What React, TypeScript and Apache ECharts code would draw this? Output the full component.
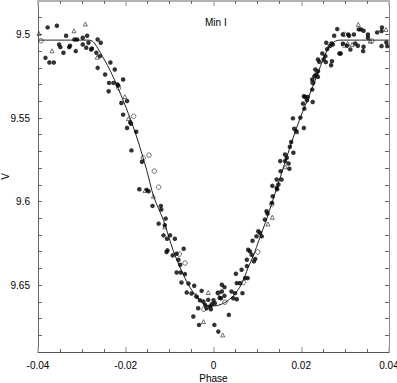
import React, { useEffect, useRef } from "react";
import * as echarts from "echarts";

// Tick labels / tick positions
const xTickLabels = ["-0.04", "-0.02", "0", "0.02", "0.04"];
const yLabelValues = [9.5, 9.55, 9.6, 9.65];
const yTickValues = [9.49, 9.5, 9.51, 9.52, 9.53, 9.54, 9.55, 9.56, 9.57, 9.58, 9.59, 9.6, 9.61, 9.62, 9.63, 9.64, 9.65, 9.66, 9.67, 9.68];

// Filled dots: [phase, V]
const filledDots: number[][] = [
  [-0.0378, 9.4958], [-0.0357, 9.4948], [-0.0383, 9.514], [-0.0374, 9.5168], [-0.0364, 9.5168],
  [-0.0352, 9.506], [-0.0349, 9.5076], [-0.0342, 9.511], [-0.0336, 9.5008], [-0.0329, 9.5076],
  [-0.0327, 9.5068], [-0.0317, 9.503], [-0.0311, 9.503], [-0.0314, 9.51], [-0.0298, 9.502],
  [-0.0298, 9.506], [-0.0288, 9.5008], [-0.029, 9.508], [-0.0285, 9.505], [-0.0279, 9.509],
  [-0.0277, 9.5084], [-0.0264, 9.503], [-0.0257, 9.505], [-0.0267, 9.511], [-0.0259, 9.513],
  [-0.0264, 9.52], [-0.0247, 9.524], [-0.0235, 9.5168], [-0.0225, 9.521], [-0.0238, 9.529],
  [-0.0239, 9.534], [-0.0228, 9.529], [-0.0219, 9.53], [-0.0217, 9.5306], [-0.0206, 9.527],
  [-0.021, 9.541], [-0.0206, 9.548], [-0.0197, 9.5398], [-0.0197, 9.556], [-0.019, 9.5526],
  [-0.0188, 9.5534], [-0.0176, 9.5582], [-0.0187, 9.5694], [-0.0163, 9.5762], [-0.0169, 9.5926],
  [-0.0152, 9.593], [-0.0148, 9.5938],
  [-0.0139, 9.6026], [-0.012, 9.6026], [-0.0119, 9.6048], [-0.0125, 9.6132], [-0.0111, 9.6142],
  [-0.0109, 9.6102], [-0.0114, 9.6202], [-0.0106, 9.6222], [-0.0099, 9.6202], [-0.0105, 9.6292],
  [-0.0107, 9.6302], [-0.0088, 9.6222], [-0.0093, 9.6322], [-0.0068, 9.6282],
  [-0.0084, 9.6312], [-0.008, 9.6348], [-0.0076, 9.6378], [-0.0084, 9.6424], [-0.0075, 9.6424],
  [-0.0065, 9.6434], [-0.0073, 9.6484], [-0.0057, 9.649], [-0.0061, 9.6544], [-0.005, 9.655],
  [-0.0044, 9.6504], [-0.0038, 9.657], [-0.0027, 9.6534], [-0.0031, 9.659], [-0.0023, 9.6598],
  [-0.0012, 9.6588], [-0.0019, 9.6618], [-0.0008, 9.6628], [-0.0004, 9.6614], [0.0, 9.659],
  [0.0003, 9.6608], [-0.0035, 9.6638], [-0.0016, 9.6638], [-0.0006, 9.6644], [-0.0046, 9.6688],
  [-0.0033, 9.6738], [0.0002, 9.6738], [0.0011, 9.6778], [0.0035, 9.6678], [0.0019, 9.6498],
  [0.0025, 9.6512], [0.0019, 9.6538], [0.0017, 9.6578], [0.0025, 9.6564], [0.0041, 9.6538],
  [0.0049, 9.6548], [0.0045, 9.6578], [0.0053, 9.6584], [0.0051, 9.6432], [0.0064, 9.6408],
  [0.0072, 9.6458], [0.0053, 9.6488], [0.006, 9.6488], [0.0066, 9.6548], [0.0083, 9.6298],
  [0.0087, 9.6318], [0.0092, 9.6358], [0.001, 9.6546], [0.0014, 9.6576], [0.0076, 9.6386],
  [0.0078, 9.6458], [0.0076, 9.6348], [0.0095, 9.6344],
  [0.0177, 9.5644], [0.0174, 9.5672], [0.0182, 9.5708], [0.0163, 9.5718], [0.0167, 9.5738],
  [0.0152, 9.5758], [0.0163, 9.5758], [0.0171, 9.5772], [0.0173, 9.5804], [0.0153, 9.5818],
  [0.0144, 9.5868], [0.0155, 9.5868], [0.0148, 9.5898], [0.0144, 9.5918], [0.0135, 9.5968],
  [0.0133, 9.6008], [0.0121, 9.6058], [0.0123, 9.6072], [0.0117, 9.6108], [0.0102, 9.6178],
  [0.0106, 9.6188], [0.011, 9.6208], [0.0098, 9.6208], [0.0089, 9.6234], [0.0079, 9.6288],
  [0.0134, 9.5906], [0.0145, 9.5926],
  [0.0282, 9.4968], [0.0275, 9.5008], [0.0295, 9.5], [0.0307, 9.5], [0.0309, 9.5008],
  [0.032, 9.5], [0.0331, 9.497], [0.0336, 9.497], [0.0342, 9.4978], [0.0352, 9.5],
  [0.0352, 9.502], [0.0373, 9.4988], [0.0384, 9.4958], [0.0383, 9.498], [0.0394, 9.5048],
  [0.0396, 9.507], [0.0383, 9.507], [0.0295, 9.5056], [0.0304, 9.5068], [0.0312, 9.509],
  [0.0323, 9.5054], [0.0329, 9.5068], [0.0341, 9.51], [0.0342, 9.5074], [0.0287, 9.5114],
  [0.029, 9.5114], [0.0272, 9.506], [0.0265, 9.507], [0.0257, 9.505], [0.0269, 9.5054],
  [0.0259, 9.5088], [0.0248, 9.5114], [0.0255, 9.513], [0.0251, 9.515], [0.0238, 9.515],
  [0.0241, 9.5164], [0.0256, 9.5166], [0.027, 9.516], [0.0268, 9.5184], [0.0232, 9.521],
  [0.0238, 9.522], [0.023, 9.525], [0.0225, 9.527], [0.0234, 9.524], [0.0238, 9.5254],
  [0.0227, 9.529], [0.0225, 9.533], [0.0206, 9.537], [0.0209, 9.5374], [0.0215, 9.5374],
  [0.0213, 9.5394], [0.0226, 9.5404], [0.0204, 9.5414], [0.0207, 9.5444], [0.0181, 9.5502],
  [0.0198, 9.5498], [0.0184, 9.5564], [0.0189, 9.558], [0.0206, 9.556],
];

// Open circles
const openCircles: number[][] = [
  [-0.0393, 9.5038], [-0.0216, 9.532], [-0.0182, 9.549], [-0.016, 9.5738], [-0.0147, 9.5722],
  [-0.0135, 9.5818], [-0.0125, 9.5914], [0.0011, 9.6548], [0.0068, 9.6484], [0.0026, 9.6602],
  [-0.0065, 9.6368], [-0.0078, 9.6314], [-0.0022, 9.6644], [0.0101, 9.6302], [0.0133, 9.6016],
  [0.0298, 9.5], [0.0361, 9.504], [0.0297, 9.5064], [0.0226, 9.5288],
];

// Open triangles
const openTriangles: number[][] = [
  [-0.0398, 9.4994], [-0.0368, 9.5098], [-0.0318, 9.4978], [-0.0292, 9.4938], [-0.0265, 9.5136],
  [-0.0202, 9.5372], [-0.0194, 9.5504], [-0.0156, 9.5934], [-0.0137, 9.5968], [-0.0111, 9.6152],
  [-0.0012, 9.6544], [-0.0023, 9.6718], [0.0021, 9.6798], [-0.004, 9.656], [0.0134, 9.6094],
  [0.0124, 9.6134], [0.0164, 9.5792], [0.033, 9.494], [0.0357, 9.504], [0.0393, 9.497],
  [0.0306, 9.5054], [0.0316, 9.506], [0.019, 9.5582],
];

// Model light curve
const modelCurve: number[][] = [
  [-0.04, 9.5034], [-0.0286, 9.5034], [-0.0274, 9.5044], [-0.0259, 9.5104], [-0.0236, 9.5214],
  [-0.0217, 9.5324], [-0.0194, 9.5474], [-0.0175, 9.5614], [-0.0152, 9.5814], [-0.0136, 9.5973],
  [-0.0114, 9.6112], [-0.0092, 9.6292], [-0.0073, 9.6412], [-0.0054, 9.6512], [-0.0031, 9.6592],
  [-0.0012, 9.6624], [0.0003, 9.6624], [0.0026, 9.6604], [0.0045, 9.6564], [0.0064, 9.6494],
  [0.0079, 9.6394], [0.0092, 9.6316], [0.0103, 9.6235], [0.0122, 9.6098], [0.0145, 9.5912],
  [0.019, 9.5554], [0.0229, 9.5294], [0.0259, 9.5094], [0.0275, 9.5044], [0.029, 9.5034],
  [0.04, 9.5034],
];

const FONT = "Liberation Sans, Arial, Helvetica, sans-serif";

export default function App() {
  const ref = useRef<HTMLDivElement>(null);
  useEffect(() => {
    if (!ref.current) return;
    const chart = echarts.init(ref.current, null, { renderer: "svg" });
    const fmtY = (v: number) => String(parseFloat(Number(v).toFixed(2)));
    const xAxisBase = {
      type: "value",
      min: -0.04,
      max: 0.04,
      interval: 0.02,
      splitLine: { show: false },
      minorSplitLine: { show: false },
      minorTick: { show: true, splitNumber: 4, length: 3, lineStyle: { color: "#666", width: 1 } },
      axisTick: { show: true, inside: true, length: 5, lineStyle: { color: "#b0b0b0", width: 1.5 } },
    };
    const yAxisBase = {
      type: "value",
      min: 9.48,
      max: 9.69,
      inverse: true,
      splitLine: { show: false },
      axisTick: {
        show: true,
        inside: true,
        length: 4,
        customValues: yTickValues,
        lineStyle: { color: "#666", width: 1 },
      },
    };
    chart.setOption({
      animation: false,
      textStyle: { fontFamily: FONT },
      title: {
        text: "Min I",
        left: 200,
        top: 12,
        textStyle: { fontSize: 10, fontWeight: "normal", color: "#000", fontFamily: FONT },
      },
      grid: { left: 38, right: 8, top: 1, bottom: 31, containLabel: false, outerBoundsMode: "none" },
      xAxis: [
        {
          ...xAxisBase,
          position: "bottom",
          name: "Phase",
          nameLocation: "middle",
          nameGap: 21,
          nameMoveOverlap: false,
          nameTextStyle: { fontSize: 10, color: "#000", fontFamily: FONT },
          axisLine: { show: true, onZero: false, lineStyle: { color: "#555", width: 1 } },
          axisLabel: {
            show: true,
            fontSize: 10,
            color: "#000",
            margin: 8,
            fontFamily: FONT,
            formatter: (v: number) => {
              const i = Math.round((v + 0.04) / 0.02);
              return xTickLabels[i] ?? "";
            },
          },
        },
        {
          ...xAxisBase,
          position: "top",
          axisLine: { show: true, onZero: false, lineStyle: { color: "#999", width: 1.5 } },
          axisLabel: { show: false },
        },
      ],
      yAxis: [
        {
          ...yAxisBase,
          position: "left",
          name: "V",
          nameLocation: "middle",
          nameGap: 28,
          nameMoveOverlap: false,
          nameTextStyle: { fontSize: 10, color: "#000", fontFamily: FONT },
          axisLine: { show: true, onZero: false, lineStyle: { color: "#666", width: 1 } },
          axisLabel: {
            show: true,
            fontSize: 10,
            color: "#000",
            margin: 8,
            fontFamily: FONT,
            customValues: yLabelValues,
            formatter: fmtY,
          },
        },
        {
          ...yAxisBase,
          position: "right",
          axisLine: { show: true, onZero: false, lineStyle: { color: "#888", width: 1 } },
          axisLabel: { show: false },
        },
      ],
      series: [
        {
          type: "line",
          data: modelCurve,
          smooth: 0.3,
          showSymbol: false,
          symbol: "none",
          lineStyle: { color: "#222", width: 1 },
          z: 1,
        },
        {
          type: "scatter",
          data: filledDots,
          symbol: "circle",
          symbolSize: 4.5,
          itemStyle: { color: "#000" },
          z: 3,
        },
        {
          type: "scatter",
          data: openCircles,
          symbol: "circle",
          symbolSize: 4.5,
          itemStyle: { color: "rgba(255,255,255,0)", borderColor: "#222", borderWidth: 0.8 },
          z: 2,
        },
        {
          type: "scatter",
          data: openTriangles,
          symbol: "triangle",
          symbolSize: 4,
          itemStyle: { color: "rgba(255,255,255,0)", borderColor: "#222", borderWidth: 0.8 },
          z: 2,
        },
      ],
    });
    return () => chart.dispose();
  }, []);
  return (
    <div
      ref={ref}
      style={{ position: "fixed", left: 0, top: 0, width: 397, height: 383, background: "#fff" }}
    />
  );
}
